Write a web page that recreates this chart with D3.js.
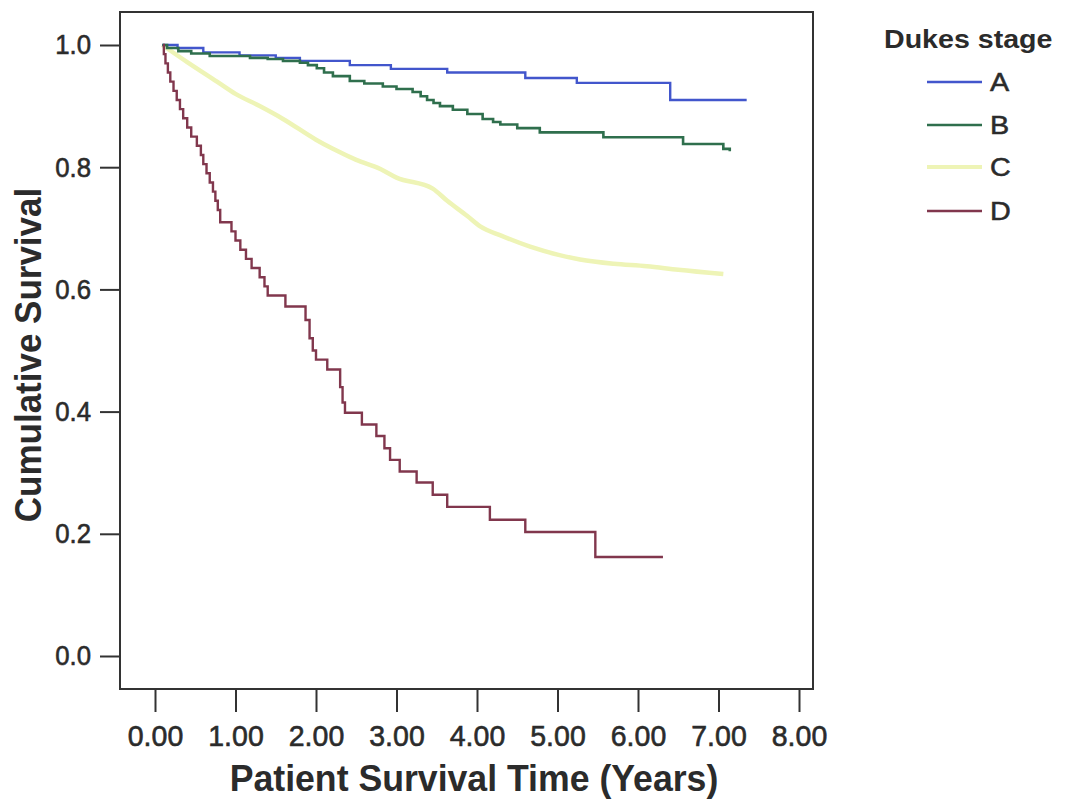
<!DOCTYPE html>
<meta charset="utf-8">
<title>Dukes stage survival</title>

<style>
    body { margin: 0; background: #fff; }
    text {
    font-family: "Liberation Sans", Arial, sans-serif;
    fill: #2b2b2b;
    }
    .curve { fill: none; stroke-width: 2.4px; }
    .frame { fill: none; stroke: #333; stroke-width: 2px; }
    .axis line { stroke: #333; stroke-width: 2px; }
    .axis text { stroke: #2b2b2b; stroke-width: 0.6px; }
</style>

<body>
<script src="https://d3js.org/d3.v7.min.js"></script>

<script>
// survival steps: [years, cumulative survival from that time on]
var stageA = [[0.09,1.0],[0.28,0.995],[0.60,0.988],[1.05,0.983],[1.50,0.979],[1.80,0.974],
    [2.42,0.967],[2.93,0.961],[3.63,0.955],[4.60,0.946],[5.24,0.938],[6.40,0.910],[7.35,0.910]];

var stageB = [[0.09,1.0],[0.15,0.995],[0.29,0.990],[0.45,0.986],[0.68,0.982],[1.18,0.979],
    [1.40,0.977],[1.59,0.974],[1.80,0.971],[1.90,0.967],[2.01,0.962],[2.10,0.955],[2.21,0.949],
    [2.42,0.941],[2.60,0.937],[2.83,0.932],[3.00,0.928],[3.20,0.923],[3.30,0.916],[3.38,0.910],
    [3.46,0.905],[3.54,0.900],[3.70,0.894],[3.88,0.887],[4.07,0.879],[4.20,0.874],[4.29,0.870],
    [4.50,0.864],[4.78,0.857],[5.57,0.849],[6.56,0.838],[7.06,0.830],[7.14,0.826]];

var stageC = [[0.09,1.0],[0.40,0.972],[0.77,0.940],[1.00,0.920],[1.30,0.900],[1.59,0.879],
    [2.00,0.845],[2.21,0.830],[2.50,0.812],[2.80,0.797],[3.00,0.783],[3.45,0.765],[3.63,0.745],
    [3.88,0.720],[4.04,0.703],[4.30,0.688],[4.66,0.670],[5.00,0.657],[5.28,0.649],[5.70,0.642],
    [6.11,0.638],[6.50,0.632],[7.06,0.625]];

var stageD = [[0.10,1.0],[0.11,0.985],[0.13,0.970],[0.16,0.955],[0.19,0.940],[0.23,0.925],
    [0.27,0.910],[0.31,0.895],[0.35,0.880],[0.40,0.865],[0.45,0.850],[0.52,0.835],[0.57,0.820],
    [0.60,0.805],[0.64,0.790],[0.68,0.775],[0.72,0.760],[0.75,0.745],[0.78,0.730],[0.81,0.710],
    [0.95,0.695],[1.00,0.680],[1.06,0.665],[1.13,0.650],[1.20,0.635],[1.30,0.620],[1.36,0.605],
    [1.40,0.590],[1.62,0.572],[1.87,0.550],[1.92,0.520],[1.96,0.500],[2.00,0.485],[2.14,0.469],
    [2.30,0.440],[2.33,0.415],[2.36,0.398],[2.57,0.379],[2.75,0.360],[2.85,0.340],[2.92,0.321],
    [3.04,0.302],[3.25,0.284],[3.45,0.264],[3.63,0.244],[4.16,0.223],[4.60,0.203],[5.47,0.162],
    [6.31,0.162]];

var stageNames = ["A", "B", "C", "D"];
var xTicks = [0, 1, 2, 3, 4, 5, 6, 7, 8];
var yTicks = [0, 0.2, 0.4, 0.6, 0.8, 1.0];

var series = [stageA, stageB, stageC, stageD];
var colors = ["#4256cc", "#2f6f4d", "#eef4b6", "#81374d"];
var widths = [2.4, 2.6, 4.5, 2.4];

// squeeze or widen a text to the width it has in the picture
function widen(sel, k) {
    sel.each(function() {
        var w = this.getComputedTextLength();
        d3.select(this).attr("textLength", w * k).attr("lengthAdjust", "spacingAndGlyphs");
    });
}

var frame = {left: 120, top: 12, right: 813, bottom: 689};

var x = d3.scaleLinear().domain([0, 8]).range([155, 799]);
var y = d3.scaleLinear().domain([0, 1]).range([656, 45]);

var svg = d3.select("body").append("svg")
    .attr("width", 1070)
    .attr("height", 802);

// plot frame
svg.append("rect")
    .attr("class", "frame")
    .attr("x", frame.left)
    .attr("y", frame.top)
    .attr("width", frame.right - frame.left)
    .attr("height", frame.bottom - frame.top);

// y axis
var yAxis = svg.append("g")
    .attr("class", "axis")
    .attr("transform", "translate(" + frame.left + ",0)")
    .call(d3.axisLeft(y).tickValues(yTicks).tickFormat(d3.format(".1f")).tickSize(20).tickPadding(9));
yAxis.select(".domain").remove();
yAxis.selectAll("text")
    .style("font-size", "28px")
    .attr("fill", "#2b2b2b")
    .call(widen, 0.92);

// x axis
var xAxis = svg.append("g")
    .attr("class", "axis")
    .attr("transform", "translate(0," + frame.bottom + ")")
    .call(d3.axisBottom(x).tickValues(xTicks).tickFormat(d3.format(".2f")).tickSize(23).tickPadding(13));
xAxis.select(".domain").remove();
xAxis.selectAll("text")
    .style("font-size", "30px")
    .attr("fill", "#2b2b2b")
    .call(widen, 0.95);

// curves
var line = d3.line()
    .curve(d3.curveStepAfter)
    .x(function(d) { return x(d[0]); })
    .y(function(d) { return y(d[1]); });

var smooth = d3.line()
    .curve(d3.curveMonotoneX)
    .x(function(d) { return x(d[0]); })
    .y(function(d) { return y(d[1]); });

// draw C first, it is the pale one underneath
[2, 0, 1, 3].forEach(function(i) {
    svg.append("path")
        .datum(series[i])
        .attr("class", "curve")
        .style("stroke", colors[i])
        .style("stroke-width", widths[i] + "px")
        .attr("d", i == 2 ? smooth : line);
});

// axis titles
svg.append("text")
    .attr("transform", "translate(41,355) scale(1.08,1) rotate(-90)")
    .attr("text-anchor", "middle")
    .style("font-size", "35px")
    .style("font-weight", "bold")
    .text("Cumulative Survival");

svg.append("text")
    .attr("x", 474)
    .attr("y", 791)
    .attr("text-anchor", "middle")
    .style("font-size", "36px")
    .style("font-weight", "bold")
    .text("Patient Survival Time (Years)")
    .call(widen, 0.99);

// legend
svg.append("text")
    .attr("x", 884)
    .attr("y", 48)
    .style("font-size", "26px")
    .style("font-weight", "bold")
    .text("Dukes stage")
    .call(widen, 1.1);

var legendY = [82, 125, 167, 211];
stageNames.forEach(function(name, i) {
    svg.append("line")
        .attr("x1", 927).attr("x2", 982)
        .attr("y1", legendY[i]).attr("y2", legendY[i])
        .style("stroke", colors[i])
        .style("stroke-width", (i == 2 ? 4 : 2.6) + "px");
    svg.append("text")
        .attr("x", 990)
        .attr("y", legendY[i])
        .attr("dy", "0.36em")
        .style("font-size", "25px")
        .style("stroke", "#2b2b2b")
        .style("stroke-width", "0.5px")
        .text(name)
        .call(widen, 1.15);
});
</script>
</body>
